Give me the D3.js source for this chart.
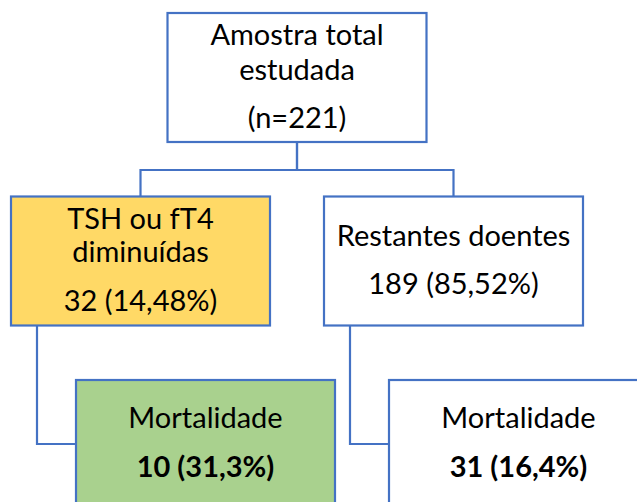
<!DOCTYPE html>
<html>
<head>
<meta charset="utf-8">
<script src="https://cdn.jsdelivr.net/npm/d3@7"></script>
<style>
  body { margin: 0; background: #fff; }
  svg { display: block; font-family: Lato, "Open Sans", sans-serif; }
</style>
</head>
<body>
<div id="chart"></div>
<script>
// ---- data ----
const nodeIds    = ["total", "low", "rest", "mortLow", "mortRest"];
const parentIds  = [null, "total", "total", "low", "rest"];
const levels     = [0, 1, 1, 2, 2];
const columns    = [0.5, 0, 1, 0, 1];
const titleLines = [["Amostra total", "estudada"], ["TSH ou fT4", "diminuídas"], ["Restantes doentes"], ["Mortalidade"], ["Mortalidade"]];
const valueLines = ["(n=221)", "32 (14,48%)", "189 (85,52%)", "10 (31,3%)", "31 (16,4%)"];
const fills      = ["#ffffff", "#ffd966", "#ffffff", "#a9d18e", "#ffffff"];

const nodes = nodeIds.map((id, i) => ({
  id, parent: parentIds[i], level: levels[i], col: columns[i],
  title: titleLines[i], value: valueLines[i], fill: fills[i]
}));

// ---- layout ----
const width = 637, height = 502;
const boxW = 259, boxH = 129;
const stroke = "#4472c4";

const y = d3.scaleLinear().domain([0, 2]).range([13, 380]);
const x = d3.scaleLinear().domain([0, 1]).range([11, 324]);
const indent = 65;

nodes.forEach(n => {
  n.x0 = x(n.col) + (n.level === 2 ? indent : 0);
  n.y0 = y(n.level);
  n.cx = n.x0 + boxW / 2;
});
const byId = new Map(nodes.map(n => [n.id, n]));

const svg = d3.select("#chart").append("svg")
  .attr("width", width)
  .attr("height", height);

// connectors
const links = nodes.filter(n => n.parent).map(n => ({ source: byId.get(n.parent), target: n }));
svg.append("g")
  .selectAll("path")
  .data(links)
  .join("path")
  .attr("fill", "none")
  .attr("stroke", stroke)
  .attr("stroke-width", 2.2)
  .attr("d", d => {
    const s = d.source, t = d.target;
    if (t.level === 1) {
      const midY = s.y0 + boxH + 28;
      return `M${s.cx},${s.y0 + boxH}V${midY}H${t.cx}V${t.y0}`;
    }
    const px = s.x0 + 26;
    const ty = t.y0 + 64;
    return `M${px},${s.y0 + boxH}V${ty}H${t.x0}`;
  });

// boxes
const g = svg.append("g")
  .selectAll("g")
  .data(nodes)
  .join("g");

g.append("rect")
  .attr("x", d => d.x0)
  .attr("y", d => d.y0)
  .attr("width", boxW)
  .attr("height", boxH)
  .attr("fill", d => d.fill)
  .attr("stroke", stroke)
  .attr("stroke-width", 2.2);

const fontSize = 29;
g.each(function(d) {
  const sel = d3.select(this);
  let lines;
  if (d.level === 0) lines = [[32, d.title[0]], [67, d.title[1]], [115, d.value]];
  else if (d.title.length === 2) lines = [[32, d.title[0]], [65, d.title[1]], [114, d.value]];
  else if (d.level === 1) lines = [[49, d.title[0]], [97, d.value]];
  else lines = [[48, d.title[0]], [97, d.value]];
  lines.forEach(([dy, txt], i) => {
    sel.append("text")
      .attr("x", d.cx)
      .attr("y", d.y0 + dy)
      .attr("text-anchor", "middle")
      .attr("font-size", fontSize)
      .attr("font-weight", d.level === 2 && i === lines.length - 1 ? "bold" : "normal")
      .attr("fill", "#000")
      .text(txt);
  });
});
</script>
</body>
</html>
